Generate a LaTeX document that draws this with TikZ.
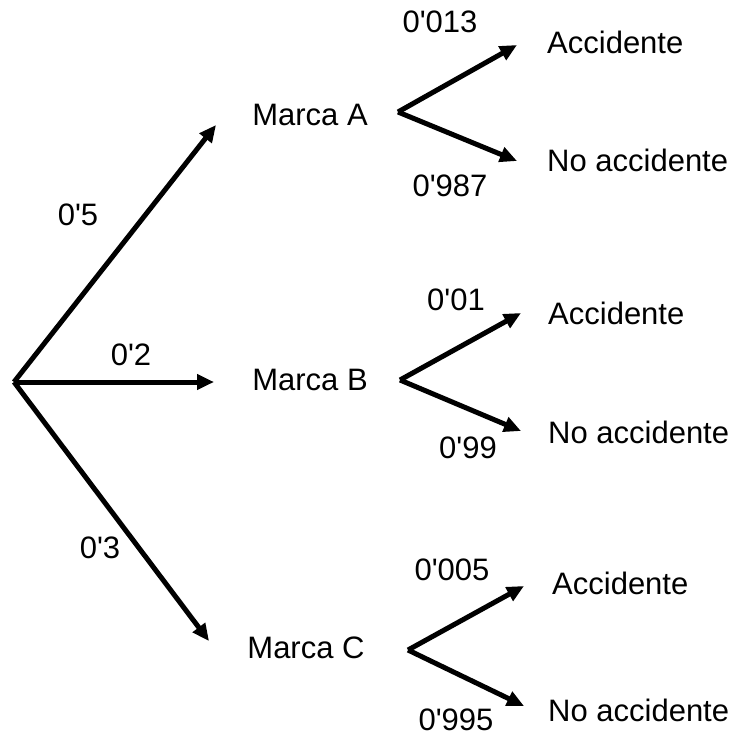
\documentclass[tikz,border=0pt]{standalone}
\usepackage{fontspec}
\setmainfont{Liberation Sans}
\usetikzlibrary{arrows.meta}
\newcommand{\ap}{\textquotesingle}

\begin{document}
\begin{tikzpicture}[x=1pt,y=-1pt,
    branch/.style={line width=5pt,-{Triangle[length=17pt,width=15pt]}},
    lbl/.style={font=\fontsize{31}{36}\selectfont,inner sep=0pt}]
    \useasboundingbox (0,0) rectangle (737,738);
    % first level
    \coordinate (root) at (14,382);
    \coordinate (tA) at (216,125);
    \coordinate (tB) at (214,382);
    \coordinate (tC) at (209,641);
    \node[lbl] (mA) at (310,115) {Marca A};
    \node[lbl] (mB) at (310,380) {Marca B};
    \node[lbl] (mC) at (306,648) {Marca C};
    \draw[branch] (root) -- (tA);
    \draw[branch] (root) -- (tB);
    \draw[branch] (root) -- (tC);
    \node[lbl] (pA) at (78,215) {0\ap5};
    \node[lbl] (pB) at (131,355) {0\ap2};
    \node[lbl] (pC) at (100,548) {0\ap3};
    % second level, Marca A
    \coordinate (vA) at (398,112);
    \coordinate (uA) at (517,45);
    \coordinate (dA) at (517,161);
    \node[lbl,anchor=west] (aA) at (547,42) {Accidente};
    \node[lbl,anchor=west] (nA) at (547,160) {No accidente};
    \draw[branch] (vA) -- (uA);
    \draw[branch] (vA) -- (dA);
    \node[lbl] (qA1) at (440,22) {0\ap013};
    \node[lbl] (qA2) at (450,186) {0\ap987};
    % Marca B
    \coordinate (vB) at (400,380);
    \coordinate (uB) at (521,313);
    \coordinate (dB) at (521,431);
    \node[lbl,anchor=west] (aB) at (548,313) {Accidente};
    \node[lbl,anchor=west] (nB) at (548,432) {No accidente};
    \draw[branch] (vB) -- (uB);
    \draw[branch] (vB) -- (dB);
    \node[lbl] (qB1) at (456,300) {0\ap01};
    \node[lbl] (qB2) at (468,448) {0\ap99};
    % Marca C
    \coordinate (vC) at (408,650);
    \coordinate (uC) at (524,586);
    \coordinate (dC) at (524,706);
    \node[lbl,anchor=west] (aC) at (552,583) {Accidente};
    \node[lbl,anchor=west] (nC) at (548,710) {No accidente};
    \draw[branch] (vC) -- (uC);
    \draw[branch] (vC) -- (dC);
    \node[lbl] (qC1) at (452,570) {0\ap005};
    \node[lbl] (qC2) at (456,720) {0\ap995};
\end{tikzpicture}
\end{document}
